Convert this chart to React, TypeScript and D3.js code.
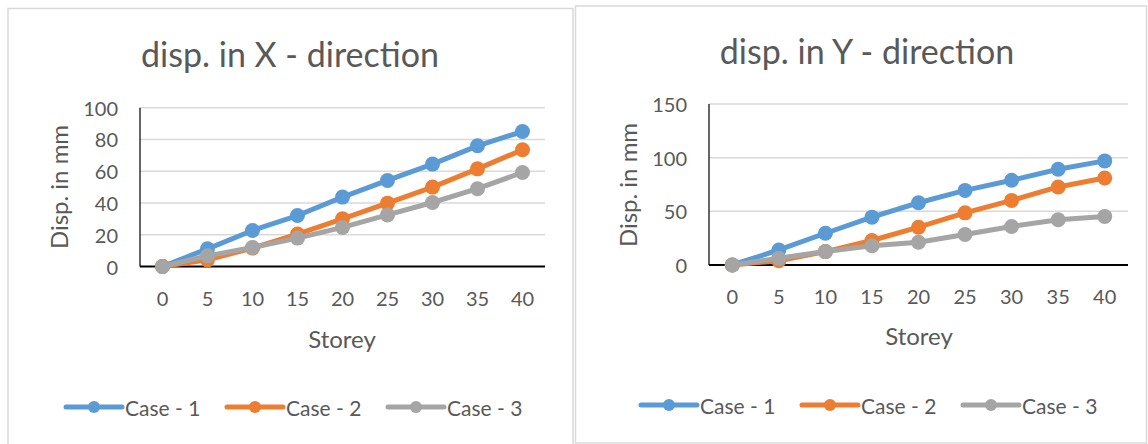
import React from "react";
import * as d3 from "d3";

const storeys = [0, 5, 10, 15, 20, 25, 30, 35, 40];
const seriesNames = ["Case - 1", "Case - 2", "Case - 3"];
const seriesColors = ["#5B9BD5", "#ED7D31", "#A5A5A5"];

const xCase1 = [0, 11.1, 22.7, 32.1, 43.7, 54.2, 64.5, 76, 85];
const xCase2 = [0, 4.2, 11.6, 20.4, 30, 39.9, 50, 61.5, 73.5];
const xCase3 = [0, 6.7, 12, 17.9, 24.6, 32.5, 40.3, 49, 59.2];
const xTicks = [0, 20, 40, 60, 80, 100];

const yCase1 = [0, 14, 29.6, 44.6, 58, 69.5, 78.9, 89.2, 97];
const yCase2 = [0, 4, 12.5, 22.8, 35.2, 48.6, 60.2, 72.7, 81];
const yCase3 = [0, 6.2, 12.5, 18, 21.2, 28.4, 35.9, 42.1, 45.2];
const yTicks = [0, 50, 100, 150];

const FONT = "Lato, 'Open Sans', sans-serif";
const TXT = "#595959";

type Cfg = {
  title: string;
  panel: { x: number; y: number; w: number; h: number };
  plot: { l: number; r: number; t: number; b: number };
  ticks: number[];
  series: number[][];
  titleX: number;
  titleY: number;
  yLabelX: number;
  yLabelY: number;
  xLabelX: number;
  xLabelY: number;
  tickLabelX: number;
  tickLabelY: number;
  legendY: number;
  legendX: number[];
};

function Chart({ c }: { c: Cfg }) {
  const x = d3.scalePoint<number>().domain(storeys).range([c.plot.l, c.plot.r]).padding(0.5);
  const y = d3.scaleLinear().domain([0, c.ticks[c.ticks.length - 1]]).range([c.plot.b, c.plot.t]);
  const line = d3
    .line<number>()
    .x((_, i) => x(storeys[i]) as number)
    .y((d) => y(d));
  return (
    <g>
      <rect x={c.panel.x} y={c.panel.y} width={c.panel.w} height={c.panel.h} fill="#fff" stroke="#D9D9D9" strokeWidth={1.5} />
      <text x={c.titleX} y={c.titleY} textAnchor="middle" dominantBaseline="central" fontFamily={FONT} fontSize={34} fill={TXT}>
        {c.title}
      </text>
      {c.ticks.map((t) => (
        <g key={t}>
          {t > 0 && <line x1={c.plot.l} x2={c.plot.r} y1={y(t)} y2={y(t)} stroke="#D9D9D9" strokeWidth={1.5} />}
          <text x={c.tickLabelX} y={y(t)} textAnchor="end" dominantBaseline="central" fontFamily={FONT} fontSize={20} fill={TXT}>
            {t}
          </text>
        </g>
      ))}
      <line x1={c.plot.l} x2={c.plot.l} y1={c.plot.t} y2={c.plot.b} stroke="#000" strokeWidth={1.2} />
      <line x1={c.plot.l} x2={c.plot.r} y1={c.plot.b} y2={c.plot.b} stroke="#000" strokeWidth={1.8} />
      {storeys.map((s) => (
        <text key={s} x={x(s)} y={c.tickLabelY} textAnchor="middle" dominantBaseline="central" fontFamily={FONT} fontSize={20} fill={TXT}>
          {s}
        </text>
      ))}
      <text
        transform={`translate(${c.yLabelX},${c.yLabelY}) rotate(-90)`}
        textAnchor="middle"
        dominantBaseline="central"
        fontFamily={FONT}
        fontSize={24}
        fill={TXT}
      >
        Disp. in mm
      </text>
      <text x={c.xLabelX} y={c.xLabelY} textAnchor="middle" dominantBaseline="central" fontFamily={FONT} fontSize={24} fill={TXT}>
        Storey
      </text>
      {c.series.map((vals, si) => (
        <g key={si}>
          <path d={line(vals) || ""} fill="none" stroke={seriesColors[si]} strokeWidth={5} strokeLinejoin="round" />
          {vals.map((v, i) => (
            <circle key={i} cx={x(storeys[i]) as number} cy={y(v)} r={7.5} fill={seriesColors[si]} />
          ))}
        </g>
      ))}
      {seriesNames.map((n, si) => {
        const lx = c.legendX[si];
        return (
          <g key={n}>
            <line x1={lx} x2={lx + 56} y1={c.legendY} y2={c.legendY} stroke={seriesColors[si]} strokeWidth={5} strokeLinecap="round" />
            <circle cx={lx + 28} cy={c.legendY} r={6} fill={seriesColors[si]} />
            <text x={lx + 59} y={c.legendY} dominantBaseline="central" fontFamily={FONT} fontSize={21} fill={TXT}>
              {n}
            </text>
          </g>
        );
      })}
    </g>
  );
}

const left: Cfg = {
  title: "disp. in X - direction",
  panel: { x: 8, y: 8.5, w: 565, h: 450 },
  plot: { l: 140, r: 545, t: 107.7, b: 266.5 },
  ticks: xTicks,
  series: [xCase1, xCase2, xCase3],
  titleX: 290,
  titleY: 53,
  yLabelX: 58,
  yLabelY: 187,
  xLabelX: 342,
  xLabelY: 338,
  tickLabelX: 118,
  tickLabelY: 298,
  legendY: 407,
  legendX: [66, 227, 388],
};

const right: Cfg = {
  title: "disp. in Y - direction",
  panel: { x: 575.5, y: 6, w: 571, h: 437 },
  plot: { l: 709, r: 1128, t: 104, b: 265 },
  ticks: yTicks,
  series: [yCase1, yCase2, yCase3],
  titleX: 867,
  titleY: 50,
  yLabelX: 627,
  yLabelY: 185,
  xLabelX: 919,
  xLabelY: 335,
  tickLabelX: 687,
  tickLabelY: 296,
  legendY: 405,
  legendX: [641, 802, 963],
};

export default function App() {
  return (
    <svg
      width={1148}
      height={444}
      viewBox="0 0 1148 444"
      style={{ position: "absolute", left: 0, top: 0, background: "#fff" }}
    >
      <rect x={0} y={0} width={1148} height={444} fill="#fff" />
      <Chart c={left} />
      <Chart c={right} />
    </svg>
  );
}
